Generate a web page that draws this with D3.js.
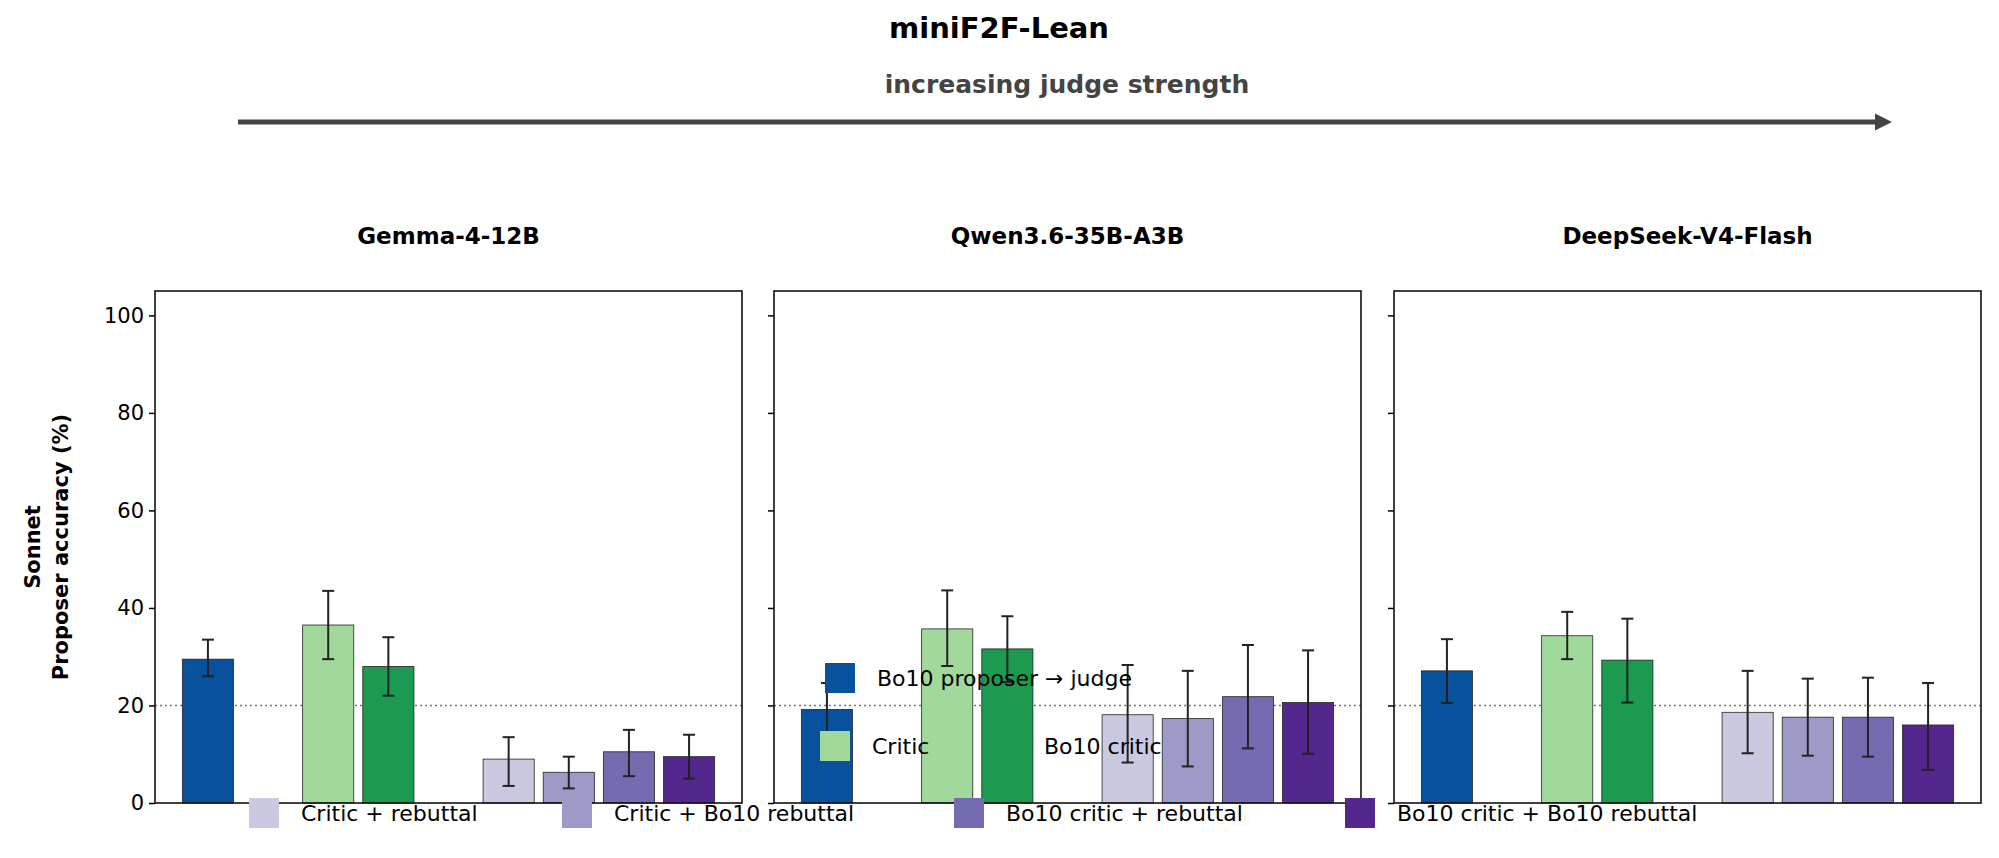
<!DOCTYPE html>
<html><head><meta charset="utf-8">
<script src="https://cdn.jsdelivr.net/npm/d3@7"></script>
<style>body{margin:0;background:#fff;font-family:"DejaVu Sans",sans-serif}</style>
</head><body><svg id="c" width="1999" height="858"></svg>
<script>
const panels = ["Gemma-4-12B","Qwen3.6-35B-A3B","DeepSeek-V4-Flash"];
const conditions = ["Bo10 proposer → judge","Critic","Bo10 critic","Critic + rebuttal","Critic + Bo10 rebuttal","Bo10 critic + rebuttal","Bo10 critic + Bo10 rebuttal"];
const xPos = [0,2,3,5,6,7,8];
const colors = ["#08519c","#a1d99b","#1b9a50","#cbc9e2","#9e9ac8","#756bb1","#54278f"];
const values = [
  [29.5,36.5,28.0,9.0,6.3,10.5,9.5],
  [19.2,35.7,31.6,18.1,17.3,21.8,20.6],
  [27.1,34.3,29.3,18.6,17.6,17.6,16.0]
];
const lows = [
  [26.0,29.5,22.0,3.5,3.0,5.5,5.0],
  [13.9,28.1,24.8,8.3,7.5,11.2,10.1],
  [20.5,29.5,20.6,10.2,9.7,9.5,6.8]
];
const highs = [
  [33.5,43.5,34.0,13.5,9.5,15.0,14.0],
  [24.6,43.6,38.3,28.3,27.1,32.4,31.3],
  [33.6,39.2,37.8,27.1,25.5,25.7,24.6]
];
const yTicks = [0,20,40,60,80,100];
const baseline = 20;

const svg = d3.select("#c");
svg.append("text").attr("x",999).attr("y",38).attr("text-anchor","middle")
  .style("font-size","29px").style("font-weight","bold").text("miniF2F-Lean");
svg.append("text").attr("x",1067).attr("y",93).attr("text-anchor","middle")
  .style("font-size","25px").style("font-weight","bold").attr("fill","#444").text("increasing judge strength");
svg.append("defs").append("marker").attr("id","ah").attr("viewBox","0 0 10 10").attr("refX",2).attr("refY",5)
  .attr("markerWidth",3.5).attr("markerHeight",3.5).attr("orient","auto")
  .append("path").attr("d","M0,0L10,5L0,10z").attr("fill","#444");
svg.append("line").attr("x1",238).attr("x2",1878).attr("y1",122).attr("y2",122)
  .attr("stroke","#444").attr("stroke-width",5).attr("marker-end","url(#ah)");

const pl = [155,774,1394], pw = 587, plotTop = 291, plotBot = 803;
const y = d3.scaleLinear().domain([0,105]).range([plotBot,plotTop]);
panels.forEach((name,p)=>{
  const g = svg.append("g").attr("transform",`translate(${pl[p]},0)`);
  const x = d3.scaleLinear().domain([-0.88,8.88]).range([0,pw]);
  const bw = x(0.85)-x(0);
  g.append("line").attr("x1",0).attr("x2",pw).attr("y1",y(baseline)).attr("y2",y(baseline))
    .attr("stroke","#777").attr("stroke-width",1.5).attr("stroke-dasharray","2,3");
  g.selectAll("rect.b").data(values[p]).join("rect").attr("class","b")
    .attr("x",(d,i)=>x(xPos[i])-bw/2).attr("width",bw).attr("y",d=>y(d)).attr("height",d=>y(0)-y(d))
    .attr("fill",(d,i)=>colors[i]).attr("stroke","#222").attr("stroke-width",0.8);
  values[p].forEach((d,i)=>{
    const cx = x(xPos[i]);
    g.append("line").attr("x1",cx).attr("x2",cx).attr("y1",y(lows[p][i])).attr("y2",y(highs[p][i])).attr("stroke","#222").attr("stroke-width",2);
    [lows[p][i],highs[p][i]].forEach(v=>g.append("line").attr("x1",cx-6).attr("x2",cx+6).attr("y1",y(v)).attr("y2",y(v)).attr("stroke","#222").attr("stroke-width",2));
  });
  const ax = g.append("g").call(d3.axisLeft(y).tickValues(yTicks).tickSize(6).tickPadding(5).tickFormat(p===0?d3.format("d"):()=>""));
  ax.select(".domain").remove();
  ax.selectAll("text").style("font-size","21px").style("font-family","DejaVu Sans");
  ax.selectAll("line").attr("stroke-width",1.5);
  g.append("rect").attr("x",0).attr("y",plotTop).attr("width",pw).attr("height",plotBot-plotTop).attr("fill","none").attr("stroke","#111").attr("stroke-width",1.6);
  g.append("text").attr("x",pw/2).attr("y",244).attr("text-anchor","middle")
    .style("font-size","23px").style("font-weight","bold").text(name);
});
const yl = svg.append("text").attr("transform","translate(40,547) rotate(-90)").attr("text-anchor","middle")
  .style("font-size","21px").style("font-weight","bold");
yl.append("tspan").attr("x",0).attr("dy",0).text("Sonnet");
yl.append("tspan").attr("x",0).attr("dy",28).text("Proposer accuracy (%)");

const legRows = [[0,825,678],[1,820,746],[2,992,746],[3,249,813],[4,562,813],[5,954,813],[6,1345,813]];
legRows.forEach(([i,lx,ly])=>{
  svg.append("rect").attr("x",lx).attr("y",ly-15).attr("width",30).attr("height",30).attr("fill",colors[i]);
  svg.append("text").attr("x",lx+52).attr("y",ly+8).style("font-size","22px").text(conditions[i]);
});
</script></body></html>
